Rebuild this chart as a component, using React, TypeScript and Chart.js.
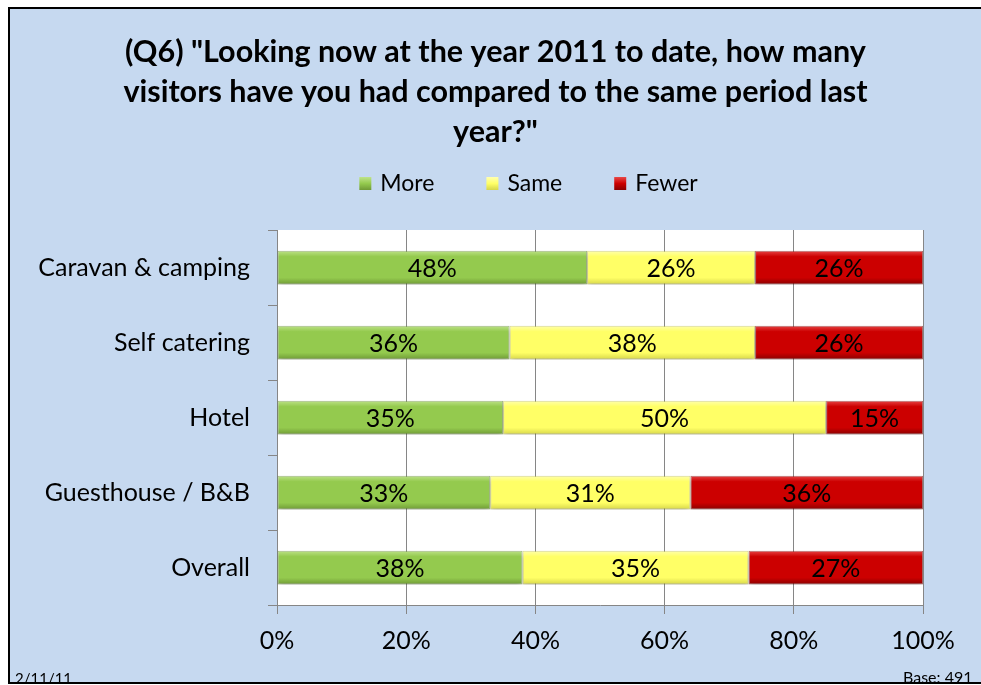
import React, { useEffect, useRef } from "react";
import { Chart, registerables } from "chart.js";

Chart.register(...registerables);

const categories = ["Caravan & camping", "Self catering", "Hotel", "Guesthouse / B&B", "Overall"];
const moreValues = [48, 36, 35, 33, 38];
const sameValues = [26, 38, 50, 31, 35];
const fewerValues = [26, 26, 15, 36, 27];
const seriesNames = ["More", "Same", "Fewer"];
const xTicks = [0, 20, 40, 60, 80, 100];
const titleLines = [
  '(Q6) "Looking now at the year 2011 to date, how many',
  "visitors have you had compared to the same period last",
  'year?"',
];
const footerLeft = "2/11/11";
const footerRight = "Base: 491";

// [light, base, dark, edge]
const palettes = [
  ["#BFE38A", "#94CA4E", "#6F9A36", "rgba(90,130,40,0.55)"],
  ["#FFFFB0", "#FFFF66", "#D6D64A", "rgba(190,190,60,0.55)"],
  ["#E84848", "#CC0000", "#8A0000", "rgba(120,0,0,0.55)"],
];

const FONT = "Lato, 'Open Sans', sans-serif";

const makeFill = (pal: string[]) => (ctx: any) => {
  const chart = ctx.chart;
  const ys = chart.scales && chart.scales.y;
  if (!ys || ctx.type !== "data") return pal[1];
  const c = ys.getPixelForValue(ctx.dataIndex);
  if (!isFinite(c)) return pal[1];
  const h = 17;
  const g = chart.ctx.createLinearGradient(0, c - h, 0, c + h);
  g.addColorStop(0, pal[0]);
  g.addColorStop(0.18, pal[1]);
  g.addColorStop(0.8, pal[1]);
  g.addColorStop(1, pal[2]);
  return g;
};

const plotBg = {
  id: "plotBg",
  beforeDraw(chart: any) {
    const { ctx, chartArea } = chart;
    if (!chartArea) return;
    ctx.save();
    ctx.fillStyle = "#FFFFFF";
    ctx.fillRect(chartArea.left, chartArea.top, chartArea.right - chartArea.left, chartArea.bottom - chartArea.top);
    ctx.restore();
  },
};

const barDeco = {
  id: "barDeco",
  beforeDatasetsDraw(chart: any) {
    const ctx = chart.ctx;
    ctx.save();
    ctx.shadowColor = "rgba(0,0,0,0.3)";
    ctx.shadowBlur = 5;
    ctx.shadowOffsetY = 3;
  },
  afterDatasetsDraw(chart: any) {
    const ctx = chart.ctx;
    ctx.restore();
    ctx.save();
    ctx.font = `25px ${FONT}`;
    ctx.fillStyle = "#000";
    ctx.textAlign = "center";
    ctx.textBaseline = "middle";
    chart.data.datasets.forEach((ds: any, di: number) => {
      const meta = chart.getDatasetMeta(di);
      meta.data.forEach((el: any, i: number) => {
        const p = el.getProps(["x", "y", "base"], true);
        ctx.fillText(ds.data[i] + "%", (p.x + p.base) / 2, p.y + 1);
      });
    });
    ctx.restore();
  },
};

const customLegend = {
  id: "customLegend",
  afterDraw(chart: any) {
    const ctx = chart.ctx;
    ctx.save();
    ctx.font = `23px ${FONT}`;
    const box = 12;
    const gap = 9;
    const spacing = 52;
    const widths = seriesNames.map((n) => ctx.measureText(n).width);
    const total = widths.reduce((a, w) => a + box + gap + w, 0) + spacing * (seriesNames.length - 1);
    let x = chart.width / 2 + 33 - total / 2;
    const y = 174;
    seriesNames.forEach((n, i) => {
      const pal = palettes[i];
      const g = ctx.createLinearGradient(0, y - 6, 0, y + 7);
      g.addColorStop(0, pal[0]);
      g.addColorStop(0.5, pal[1]);
      g.addColorStop(1, pal[2]);
      ctx.fillStyle = g;
      ctx.fillRect(x, y - 6, box, 13);
      ctx.fillStyle = "#000";
      ctx.textBaseline = "middle";
      ctx.textAlign = "left";
      ctx.fillText(n, x + box + gap, y + 1);
      x += box + gap + widths[i] + spacing;
    });
    ctx.restore();
  },
};

export default function App() {
  const ref = useRef<HTMLCanvasElement>(null);

  useEffect(() => {
    if (!ref.current) return;
    const seriesValues = [moreValues, sameValues, fewerValues];
    const chart = new Chart(ref.current, {
      type: "bar",
      data: {
        labels: categories,
        datasets: seriesNames.map((name, i) => ({
          label: name,
          data: seriesValues[i],
          backgroundColor: makeFill(palettes[i]),
          borderColor: palettes[i][3],
          borderWidth: 1,
          borderSkipped: false,
          barPercentage: 0.45,
          categoryPercentage: 1,
        })),
      },
      options: {
        animation: false,
        indexAxis: "y",
        responsive: true,
        maintainAspectRatio: false,
        layout: { padding: 0 },
        plugins: {
          legend: { display: false },
          tooltip: { enabled: false },
          title: {
            display: true,
            text: titleLines,
            color: "#000",
            font: { family: FONT, size: 30.5, weight: "bold", lineHeight: 40 / 30.5 },
            padding: { top: 23, bottom: 78 },
          },
        },
        scales: {
          x: {
            stacked: true,
            min: 0,
            max: 100,
            afterBuildTicks: (s: any) => {
              s.ticks = xTicks.map((v) => ({ value: v }));
            },
            ticks: {
              callback: (v: any) => v + "%",
              color: "#000",
              font: { family: FONT, size: 25 },
              padding: 12,
              maxRotation: 0,
            },
            grid: { color: "#868686", tickLength: 9, lineWidth: 1 },
            border: { color: "#868686" },
            afterFit: (s: any) => {
              s.height = 77;
            },
          },
          y: {
            stacked: true,
            ticks: { color: "#000", font: { family: FONT, size: 25 }, padding: 18 },
            grid: { drawOnChartArea: false, color: "#868686", tickLength: 9, offset: true },
            border: { color: "#868686" },
            afterFit: (s: any) => {
              s.width = 267;
            },
          },
          rightPad: {
            type: "category",
            position: "right",
            display: true,
            grid: { display: false },
            ticks: { display: false },
            border: { display: false },
            afterFit: (s: any) => {
              s.width = 58;
            },
          },
        },
      } as any,
      plugins: [plotBg, barDeco, customLegend],
    });
    return () => chart.destroy();
  }, []);

  return (
    <div
      style={{
        position: "fixed",
        left: 8,
        top: 7,
        right: -12,
        bottom: 1,
        boxSizing: "border-box",
        borderLeft: "2px solid #000",
        borderTop: "2px solid #000",
        borderBottom: "2px solid #000",
        background: "#C6D9F0",
        overflow: "hidden",
      }}
    >
      <div style={{ position: "absolute", left: 0, top: 0, width: 971, height: 673 }}>
        <canvas ref={ref} />
      </div>
      <div
        style={{
          position: "absolute",
          left: 5,
          top: 660,
          fontFamily: FONT,
          fontSize: 15,
          color: "#000",
          lineHeight: "18px",
        }}
      >
        {footerLeft}
      </div>
      <div
        style={{
          position: "absolute",
          left: 893,
          top: 659,
          fontFamily: FONT,
          fontSize: 16,
          color: "#000",
          lineHeight: "18px",
          whiteSpace: "nowrap",
        }}
      >
        {footerRight}
      </div>
    </div>
  );
}
